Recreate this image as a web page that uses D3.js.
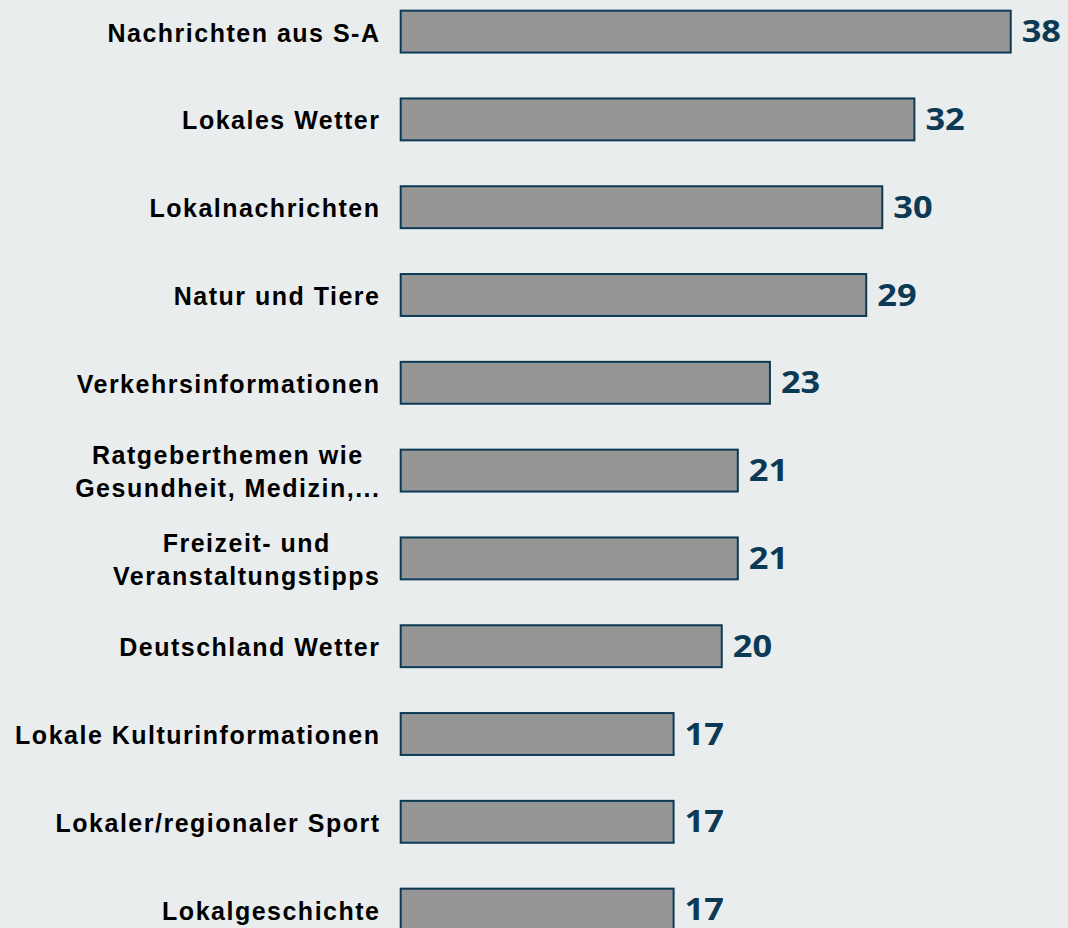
<!DOCTYPE html>
<html>
<head>
<meta charset="utf-8">
<script src="https://cdn.jsdelivr.net/npm/d3@7"></script>
<style>
  html, body { margin: 0; padding: 0; background: #e9edee; }
  svg { display: block; }
</style>
</head>
<body>
<svg id="chart" width="1068" height="928"></svg>
<script>
// Themen-Interesse (Anteil in %), Zeilenumbrüche mit "\n"
const categories = [
  "Nachrichten aus S-A",
  "Lokales Wetter",
  "Lokalnachrichten",
  "Natur und Tiere",
  "Verkehrsinformationen",
  "Ratgeberthemen wie\nGesundheit, Medizin,...",
  "Freizeit- und\nVeranstaltungstipps",
  "Deutschland Wetter",
  "Lokale Kulturinformationen",
  "Lokaler/regionaler Sport",
  "Lokalgeschichte"
];
const values = [38, 32, 30, 29, 23, 21, 21, 20, 17, 17, 17];

const W = 1068, H = 928;
const svg = d3.select("#chart");

svg.append("rect").attr("width", W).attr("height", H).attr("fill", "#e9edee");

const step = 87.8;
const x = d3.scaleLinear().domain([0, 38]).range([400.7, 1010.7]);
const y = d3.scaleBand()
  .domain(categories)
  .range([-12.3 + 1, -12.3 + 1 + step * categories.length])
  .paddingInner(0.5)
  .paddingOuter(0.25);

const rows = svg.selectAll("g.row")
  .data(categories.map((c, i) => ({ c, v: values[i] })))
  .join("g").attr("class", "row");

rows.append("rect")
  .attr("x", x(0))
  .attr("y", d => y(d.c))
  .attr("width", d => x(d.v) - x(0))
  .attr("height", y.bandwidth() - 2)
  .attr("fill", "#969696")
  .attr("stroke", "#0c3a55")
  .attr("stroke-width", 2);

// Wertelabels, leicht in die Breite gezogen
rows.append("text")
  .attr("transform", d => `translate(${x(d.v) + 11},${y(d.c) + (y.bandwidth() - 2) / 2 + 10.5}) scale(1.11,1)`)
  .attr("font-family", "'Open Sans', sans-serif")
  .attr("font-weight", 700)
  .attr("font-size", 31)
  .attr("fill", "#0c3a55")
  .text(d => d.v);

// Kategorie-Beschriftungen: rechtsbündig als Block, Zeilen zentriert
const labelRight = 380.5;
const lineH = 33;
rows.each(function(d) {
  const g = d3.select(this);
  const lines = d.c.split("\n");
  const cy = y(d.c) + (y.bandwidth() - 2) / 2;
  const t = g.append("text")
    .attr("font-family", "'Liberation Sans', Arial, sans-serif")
    .attr("font-weight", 700)
    .attr("font-size", 25)
    .attr("letter-spacing", "1.5px")
    .attr("fill", "#000");
  const spans = lines.map((ln, i) => t.append("tspan")
    .attr("y", cy + 10 + (i - (lines.length - 1) / 2) * lineH)
    .text(ln));
  const widths = spans.map(s => s.node().getComputedTextLength());
  const maxW = d3.max(widths);
  spans.forEach((s, i) => {
    s.attr("x", labelRight - maxW + (maxW - widths[i]) / 2);
  });
});
</script>
</body>
</html>
